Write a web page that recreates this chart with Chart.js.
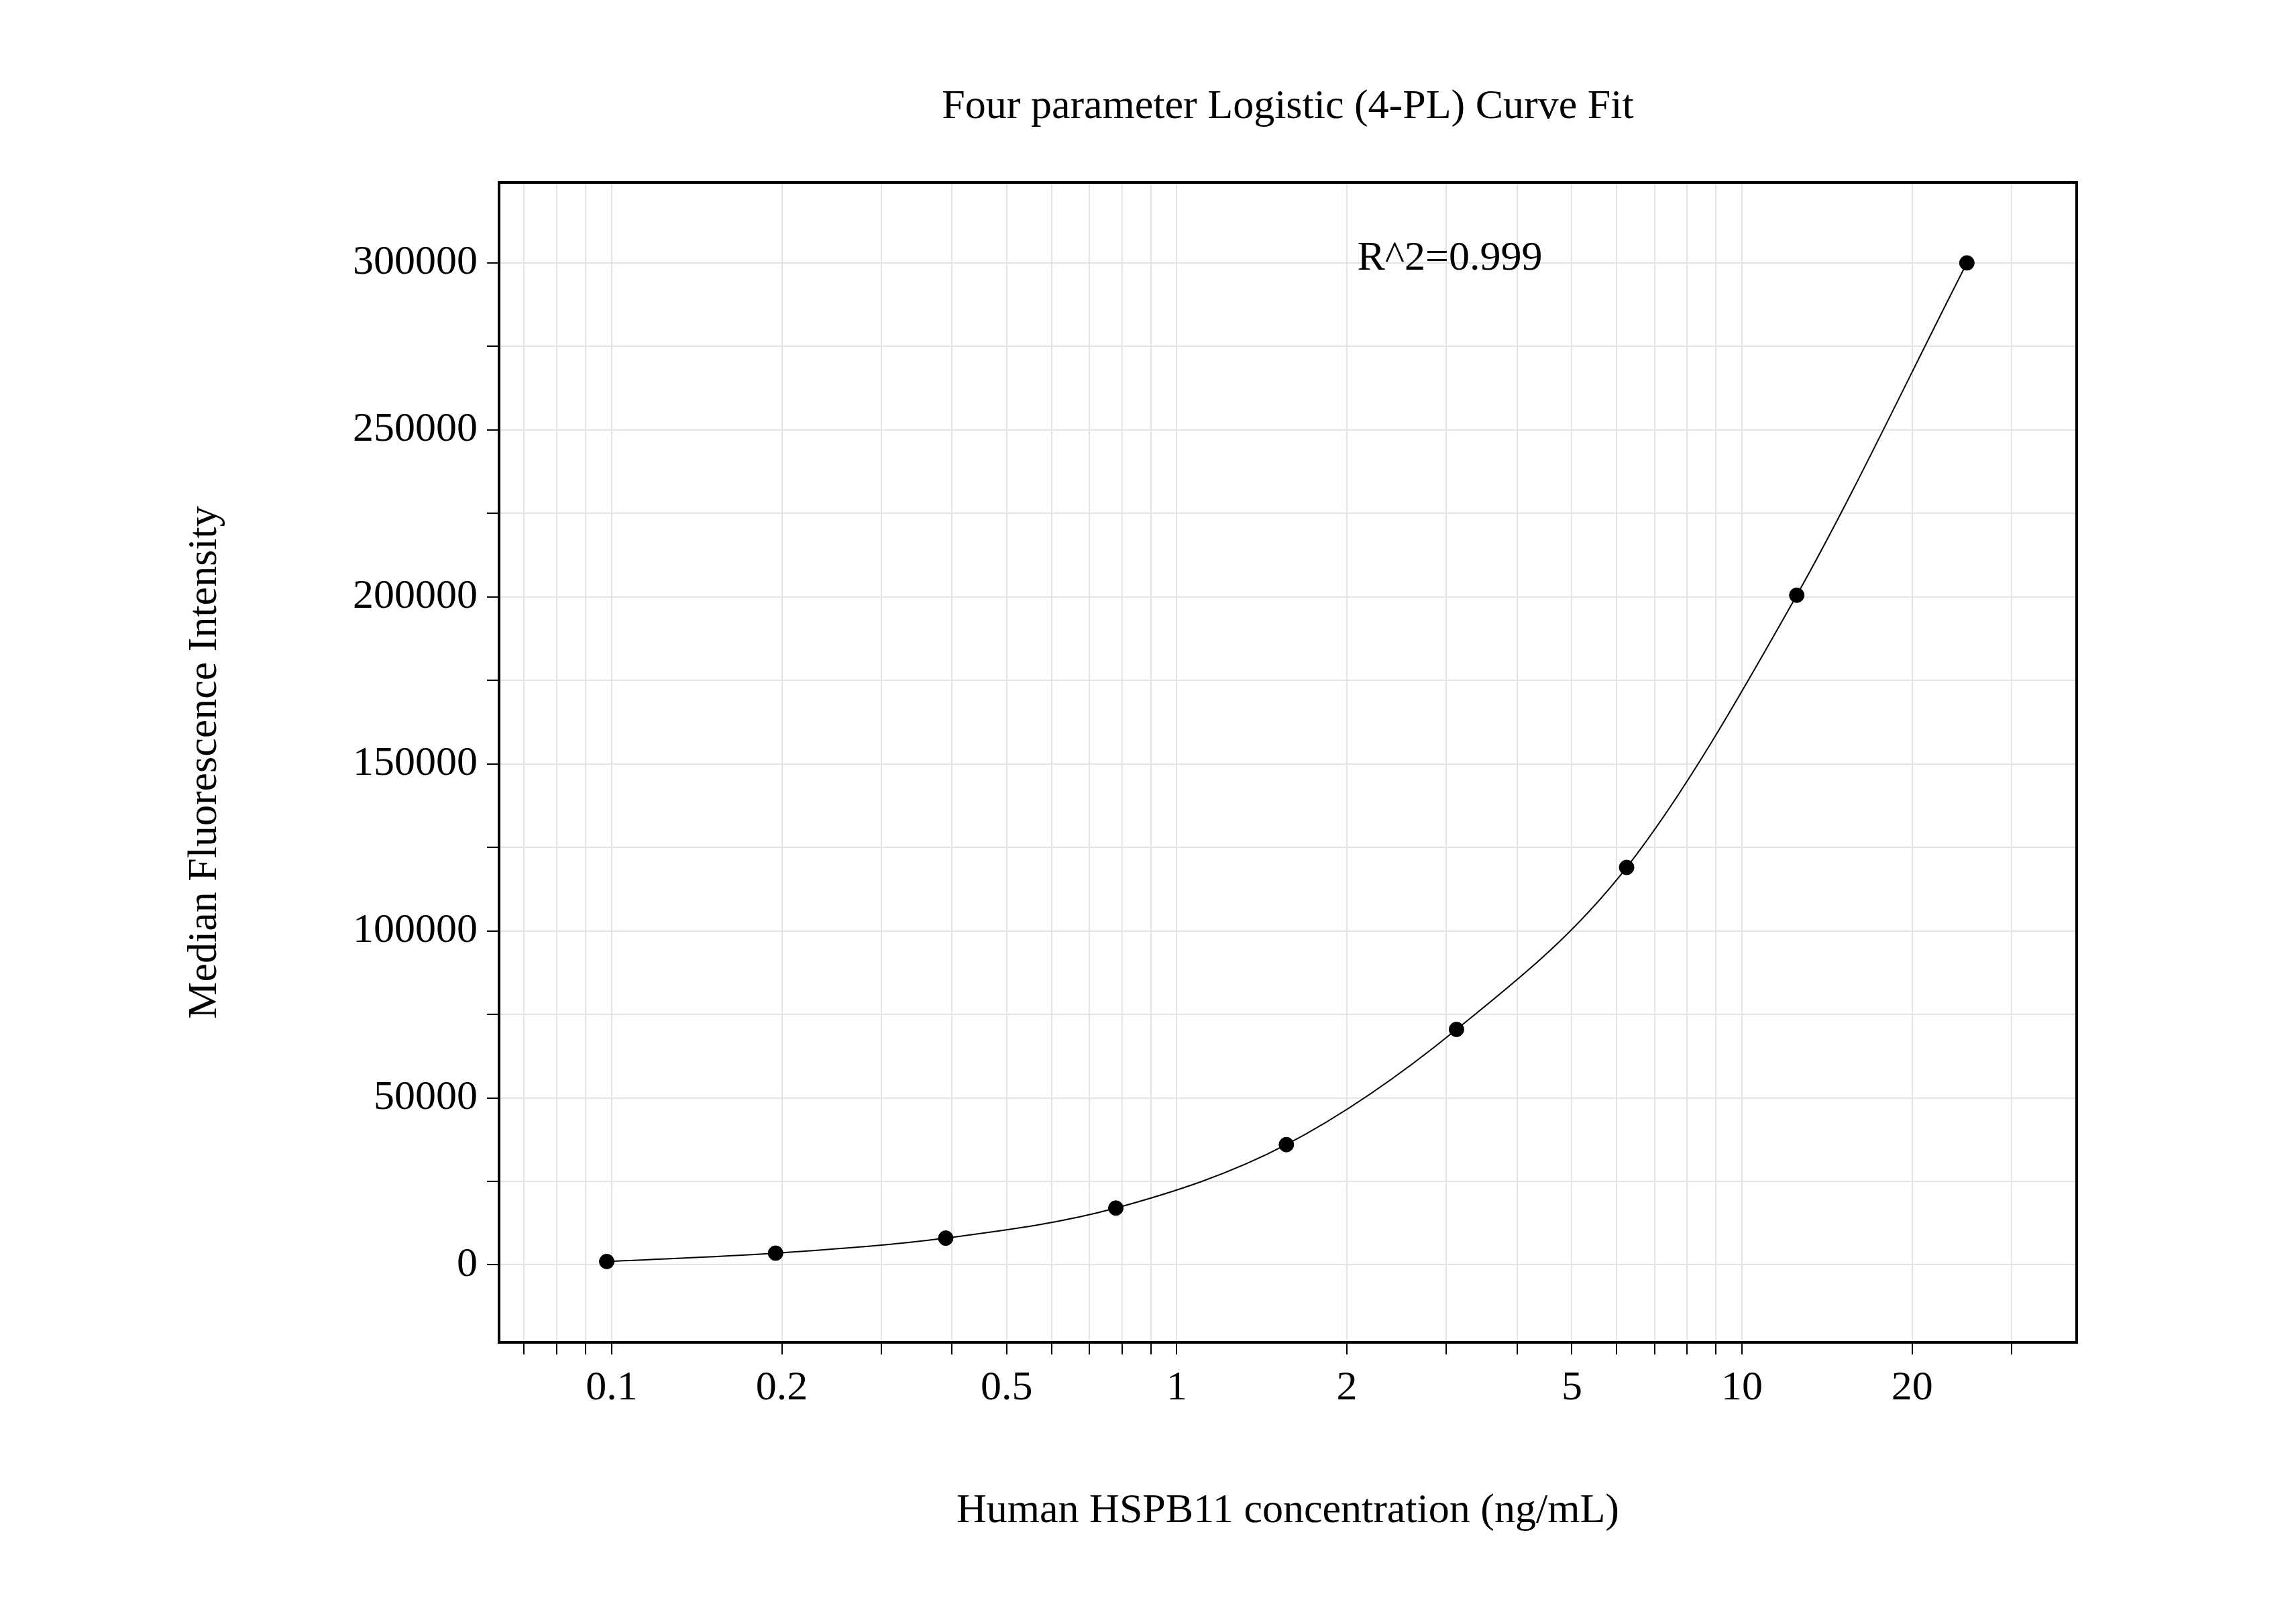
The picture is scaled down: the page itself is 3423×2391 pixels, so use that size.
<!DOCTYPE html>
<html><head><meta charset="utf-8">
<script src="https://cdn.jsdelivr.net/npm/chart.js@4"></script>
<style>html,body{margin:0;padding:0;background:#fff}#wrap{width:3423px;height:2391px}</style>
</head><body><div id="wrap"><canvas id="c"></canvas></div>
<script>
const concentrations = [0.098, 0.195, 0.39, 0.78, 1.5625, 3.125, 6.25, 12.5, 25];
const intensities = [1000, 3500, 8000, 17000, 36000, 70500, 119000, 200500, 300000];
const xTickLabels = [0.1, 0.2, 0.5, 1, 2, 5, 10, 20];
const yTickValues = [0, 50000, 100000, 150000, 200000, 250000, 300000];
const titleText = 'Four parameter Logistic (4-PL) Curve Fit';
const xTitle = 'Human HSPB11 concentration (ng/mL)';
const yTitle = 'Median Fluorescence Intensity';
const r2Text = 'R^2=0.999';

const font = 'Liberation Serif';
const pts = concentrations.map((x,i)=>({x, y:intensities[i]}));

const xTicksAll = [];
[0.01,0.1,1,10].forEach(d=>{for(let m=1;m<10;m++){const v=+(m*d).toPrecision(3); if(v>=0.065&&v<=39) xTicksAll.push(v);}});
const yTicksAll = [];
for(let v=0; v<=300000; v+=25000) yTicksAll.push(v);

const framePlugin = {
  id:'frame',
  afterDraw(chart){
    const {ctx, chartArea:a, scales} = chart;
    ctx.save();
    ctx.strokeStyle='#000'; ctx.lineWidth=4;
    ctx.strokeRect(a.left, a.top, a.right-a.left, a.bottom-a.top);
    ctx.fillStyle='#000'; ctx.font='62px "'+font+'"';
    ctx.textBaseline='middle';
    ctx.fillText(r2Text, a.left + 0.544*(a.right-a.left), scales.y.getPixelForValue(300000)-6);
    ctx.textAlign='center';
    ctx.fillText(titleText, (a.left+a.right)/2, 160);
    ctx.restore();
  }
};

new Chart(document.getElementById('c'), {
  type:'scatter',
  data:{datasets:[
    {data:pts, showLine:true, cubicInterpolationMode:'monotone', borderColor:'#000', borderWidth:2, pointRadius:0, pointHoverRadius:0},
    {data:pts, showLine:false, pointRadius:11, backgroundColor:'#000', borderColor:'#000'}
  ]},
  options:{
    responsive:true, maintainAspectRatio:false, animation:false,
    layout:{padding:{left:265, right:327, top:272, bottom:97}},
    plugins:{legend:{display:false}, tooltip:{enabled:false}, title:{display:false}},
    scales:{
      x:{type:'logarithmic', min:0.0632, max:39.1,
        afterBuildTicks(s){ s.ticks = xTicksAll.map(v=>({value:v})); },
        afterFit(s){ s.height = 293; },
        ticks:{autoSkip:false, maxRotation:0, color:'#000', font:{family:font, size:62}, padding:14,
          callback:(v)=> xTickLabels.includes(+(+v).toPrecision(3)) ? String(+(+v).toPrecision(3)) : ''},
        grid:{color:'#e4e4e4', lineWidth:2, tickColor:'#000', tickLength:18},
        border:{color:'#000', width:4},
        title:{display:true, text:xTitle, color:'#000', font:{family:font, size:62}}
      },
      y:{min:-23212, max:324088,
        afterBuildTicks(s){ s.ticks = yTicksAll.map(v=>({value:v})); },
        afterFit(s){ s.width = 744-265; },
        ticks:{autoSkip:false, color:'#000', font:{family:font, size:62}, padding:14,
          callback:(v)=> yTickValues.includes(v) ? String(v) : ''},
        grid:{color:'#e4e4e4', lineWidth:2, tickColor:'#000', tickLength:18},
        border:{color:'#000', width:4},
        title:{display:true, text:yTitle, color:'#000', font:{family:font, size:62}, padding:{bottom:60}}
      }
    }
  },
  plugins:[framePlugin]
});
</script></body></html>
